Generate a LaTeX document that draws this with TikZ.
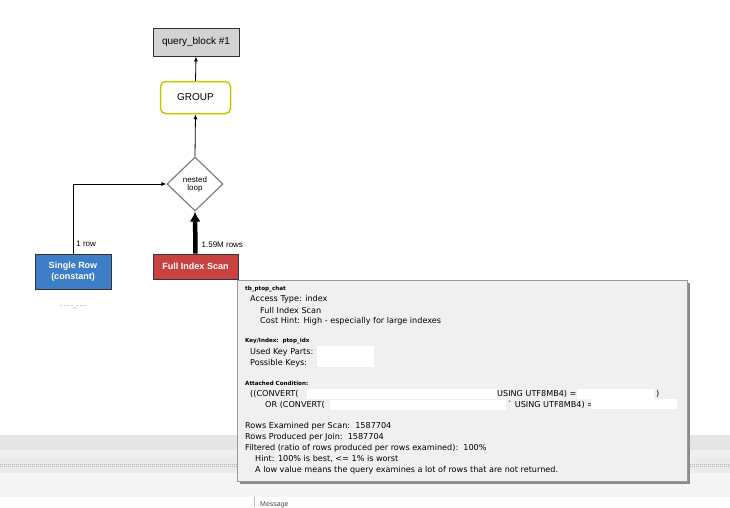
\documentclass[tikz,border=0pt]{standalone}
\usepackage{fontspec}
\setmainfont{Liberation Sans}
\newfontfamily\tipfont{DejaVu Sans}
\usetikzlibrary{shapes.geometric,arrows.meta}
\definecolor{blockgray}{HTML}{D3D3D3}
\definecolor{groupyellow}{HTML}{C8C800}
\definecolor{rowblue}{HTML}{3D7EC6}
\definecolor{scanred}{HTML}{C84242}
\definecolor{tipbg}{HTML}{F0F0F0}
\begin{document}
\begin{tikzpicture}[x=1pt,y=-1pt,
    box/.style={draw=black!80, line width=0.8pt, inner sep=1pt, align=center, font=\fontsize{10}{11}\selectfont},
    access/.style={box, text=white, font=\bfseries\fontsize{9}{11}\selectfont},
    flow/.style={-{Latex[length=5pt,width=4pt]}, line width=0.8pt},
    lbl/.style={font=\fontsize{8}{9}\selectfont, inner sep=1pt},
    tipline/.style={anchor=west, inner sep=0pt, font=\tipfont\fontsize{8.1}{9}\selectfont},
    tiphead/.style={anchor=west, inner sep=0pt, font=\tipfont\bfseries\fontsize{5.6}{7}\selectfont},
    redact/.style={fill=white, draw=none}]
\useasboundingbox[fill=white] (0,0) rectangle (730,507);
% Panel bands
\fill[black!10] (0,435) rectangle (730,450);
\fill[black!6] (0,450) rectangle (730,457);
\fill[black!8] (0,457) rectangle (730,473);
\fill[black!4] (0,473) rectangle (730,497);
\foreach \y in {464,466}
    \draw[black!30, line width=1pt, dash pattern=on 1pt off 1pt] (0,\y) -- (730,\y);
\draw[black!25] (254,497) -- (254,507);
\node[lbl, anchor=west, text=black!70, font=\fontsize{7}{8}\selectfont] (msg) at (259,505) {Message};
% Nodes
\node[box, fill=blockgray, minimum width=86pt, minimum height=28pt] (qb) at (196,42) {query\_block \#1};
\node[box, draw=groupyellow, line width=1.5pt, rounded corners=5pt, minimum width=70pt, minimum height=32pt] (group) at (195.5,97.5) {GROUP};
\node[diamond, draw=black!50, line width=1.2pt, fill=white, minimum width=56pt, minimum height=54pt, inner sep=0pt, align=center, font=\fontsize{8}{8}\selectfont] (loop) at (195,184) {nested\\loop};
\node[access, fill=rowblue, minimum width=76pt, minimum height=35pt] (single) at (73,271.5) {Single Row\\(constant)};
\node[access, fill=scanred, minimum width=85pt, minimum height=25pt] (scan) at (195.5,266.5) {Full Index Scan};
\node[lbl, text=black!60, font=\fontsize{6}{6}\selectfont] (tbl) at (73,307) {- - - -\_- - -};
% Edges
\draw[flow] (single.north) |- node[lbl, pos=0.07, right=2pt] {1 row} (loop.west);
\draw[-{Latex[length=10pt,width=11pt]}, line width=4.5pt] (scan.north) -- node[lbl, pos=0.2, right=3pt] {1.59M rows} (loop.south);
\draw[flow] (loop.north) -- (group.south);
\draw[flow] (group.north) -- (qb.south);
% Tooltip
\fill[black!45] (240,283) rectangle (690,484);
\node[draw=black!40, fill=tipbg, minimum width=450pt, minimum height=201pt, inner sep=0pt, anchor=north west] (tip) at (237,280) {};
\node[tiphead] (t1) at (245,289) {tb\_ptop\_chat};
\foreach \n/\x/\y/\t in {a/250/299/{Access Type: index}, b/260/310/{Full Index Scan},
        c/260/321/{Cost Hint: High - especially for large indexes},
        d/250/352/{Used Key Parts:}, e/250/363/{Possible Keys:},
        f/250/394/{((CONVERT(}, g/265/405/{OR (CONVERT(},
        h/245/426/{Rows Examined per Scan:\ \ 1587704}, i/245/437/{Rows Produced per Join:\ \ 1587704},
        j/245/448/{Filtered (ratio of rows produced per rows examined):\ \ 100\%},
        k/255/459/{Hint: 100\% is best, <= 1\% is worst},
        l/255/470/{A low value means the query examines a lot of rows that are not returned.}}
    \node[tipline] (tip\n) at (\x,\y) {\t};
\node[tiphead] (t2) at (245,341) {Key/Index:\ \ ptop\_idx};
\node[tiphead] (t3) at (245,383) {Attached Condition:};
% Redacted parts
\fill[redact] (317,346) rectangle (374,367);
\fill[redact] (307,389) rectangle (497,399);
\node[tipline] (using1) at (497,394) {USING UTF8MB4) =};
\fill[redact] (577,389) rectangle (654,399);
\node[tipline] (close1) at (656,394) {)};
\fill[redact] (330,400) rectangle (506,410);
\node[tipline] (using2) at (508,405) {` USING UTF8MB4) =};
\fill[redact] (591,399) rectangle (677,409);
\end{tikzpicture}
\end{document}
